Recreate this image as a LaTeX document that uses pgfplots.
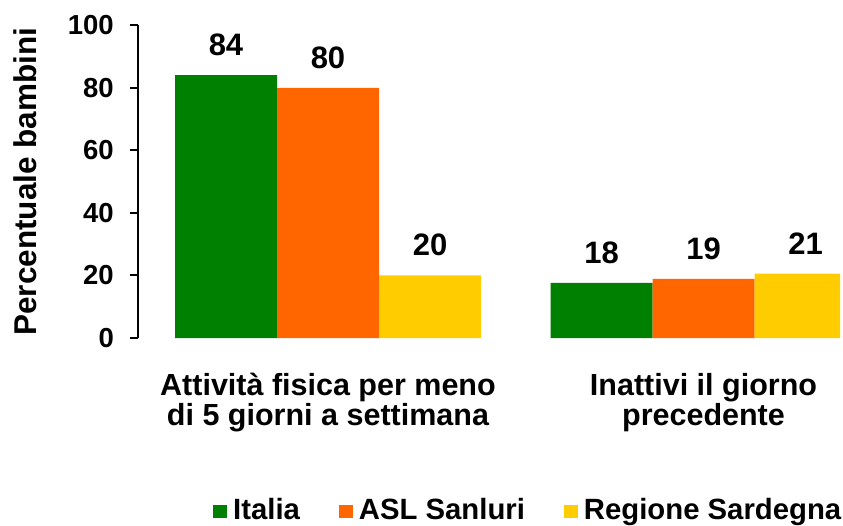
\documentclass[border=0pt]{standalone}
\usepackage{fontspec}
\setmainfont{Liberation Sans}
\usepackage{pgfplots}
\pgfplotsset{compat=1.18}
\definecolor{itGreen}{HTML}{008000}
\definecolor{aslOrange}{HTML}{FF6600}
\definecolor{sarYellow}{HTML}{FFCC00}
\begin{document}
\begin{tikzpicture}
\path[use as bounding box] (-138pt,-187pt) rectangle (705pt,338pt);
\begin{axis}[
  at={(0pt,0pt)}, anchor=south west,
  scale only axis, width=702pt, height=313pt,
  xmin=-0.506, xmax=1.3635, ymin=0, ymax=100,
  ybar=0pt, bar width=102pt,
  /pgf/number format/assume math mode=true,
  axis y line*=left, axis x line*=bottom,
  axis line style={-, line width=2pt, black},
  x axis line style={draw=none},
  ytick={0,20,...,100},
  tick align=outside, major tick length=8pt,
  ytick style={line width=2pt, black},
  xtick={0,1}, xtick style={draw=none},
  xticklabels={{Attività fisica per meno\\di 5 giorni a settimana},{Inattivi il giorno\\precedente}},
  xticklabel style={font=\fontsize{30.5}{30}\selectfont\bfseries, align=center, inner sep=0pt, anchor=north, yshift=-27pt},
  yticklabel style={font=\fontsize{27.5}{30}\selectfont\bfseries, inner sep=0pt, anchor=east, xshift=-16pt},
  ylabel={Percentuale bambini},
  every axis y label/.style={at={(axis description cs:-0.178,0.5)}, rotate=90, anchor=north, inner sep=0pt, font=\fontsize{31.5}{32}\selectfont\bfseries},
  nodes near coords={\pgfmathprintnumber[fixed,precision=0]{\pgfplotspointmeta}},
  every node near coord/.append style={font=\fontsize{31}{31}\selectfont\bfseries, text=black, anchor=south, inner sep=0pt, yshift=19pt},
  legend columns=3,
  legend style={draw=none, fill=none, at={(0.1068,-0.547)}, anchor=west, inner sep=0pt,
    font=\fontsize{29.3}{30}\selectfont\bfseries,
    /tikz/every even column/.append style={column sep=37pt}},
  legend image code/.code={\fill[#1] (0pt,-9pt) rectangle (14pt,4pt); \path (18pt,0pt);},
]
\addplot[fill=itGreen, draw=none] coordinates {(0,84) (1,17.6)};
\addplot[fill=aslOrange, draw=none] coordinates {(0,79.9) (1,18.9)};
\addplot[fill=sarYellow, draw=none] coordinates {(0,20) (1,20.6)};
\legend{Italia, ASL Sanluri, Regione Sardegna}
\end{axis}
\end{tikzpicture}
\end{document}
